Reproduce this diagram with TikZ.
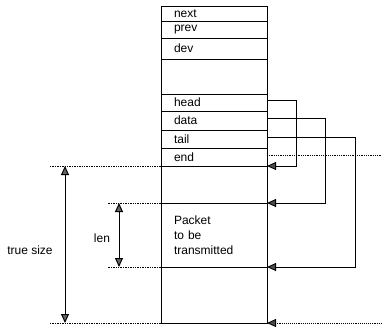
\documentclass[tikz,border=0pt]{standalone}
\usepackage{fontspec}
\setmainfont{Liberation Sans}
\usetikzlibrary{arrows.meta}

\begin{document}
\begin{tikzpicture}[x=1pt,y=-1pt,font=\fontsize{12}{15}\selectfont,
  field/.style={draw,line width=0.9pt,anchor=north west,outer sep=0pt,minimum width=106pt,
    text width=80pt,inner xsep=13pt,inner ysep=0pt,align=left},
  ptr/.style={line width=0.9pt,-{Triangle[length=9pt,width=8pt,fill=black!70]}},
  guide/.style={densely dotted,line width=0.7pt},
  dimarrow/.style={line width=1pt,
    {Triangle[length=9pt,width=8pt,fill=black!60]}-{Triangle[length=9pt,width=8pt,fill=black!60]}}]
  \useasboundingbox (0,0) rectangle (382,329);

  \node[field,minimum height=15pt] (next) at (161,6) {next};
  \node[field,minimum height=17pt] (prev) at (next.south west) {prev};
  \node[field,minimum height=21pt] (dev) at (prev.south west) {dev};
  \node[field,minimum height=35pt] (spare) at (dev.south west) {};
  \node[field,minimum height=17pt] (head) at (spare.south west) {head};
  \node[field,minimum height=19pt] (data) at (head.south west) {data};
  \node[field,minimum height=18pt] (tail) at (data.south west) {tail};
  \node[field,minimum height=18pt] (end) at (tail.south west) {end};
  \node[field,minimum height=37pt] (gap) at (end.south west) {};
  \node[field,minimum height=64pt] (packet) at (gap.south west) {Packet\\to be\\transmitted};
  \node[field,minimum height=56pt] (room) at (packet.south west) {};

  \coordinate (rim) at (382,0);
  \coordinate (tsx) at (65,0);
  \coordinate (gx) at (50,0);
  \coordinate (lx) at (119,0);
  \coordinate (lgx) at (107,0);

  \draw[ptr] ([yshift=2pt]head.east) -- ++(29,0) |- (gap.north east);
  \draw[ptr] ([yshift=2pt]data.east) -- ++(58,0) |- (packet.north east);
  \draw[ptr] ([yshift=2pt]tail.east) -- ++(88,0) |- (packet.south east);
  \draw[line width=0.8pt,densely dotted] ([yshift=2pt]end.east) -- ([yshift=2pt]end.east -| rim);
  \draw[ptr,densely dotted] (room.south east -| rim) -- (room.south east);

  \draw[guide] (gap.north west) -- (gap.north west -| gx);
  \draw[guide] (room.south west) -- (room.south west -| gx);
  \draw[guide] (packet.north west) -- (packet.north west -| lgx);
  \draw[guide] (packet.south west) -- (packet.south west -| lgx);

  \draw[dimarrow] (gap.north west -| tsx) -- (room.south west -| tsx);
  \draw[dimarrow] (packet.north west -| lx) -- (packet.south west -| lx);

  \node (tsize) at (30,250) {true size};
  \node (len) at (102,238) {len};
\end{tikzpicture}
\end{document}
